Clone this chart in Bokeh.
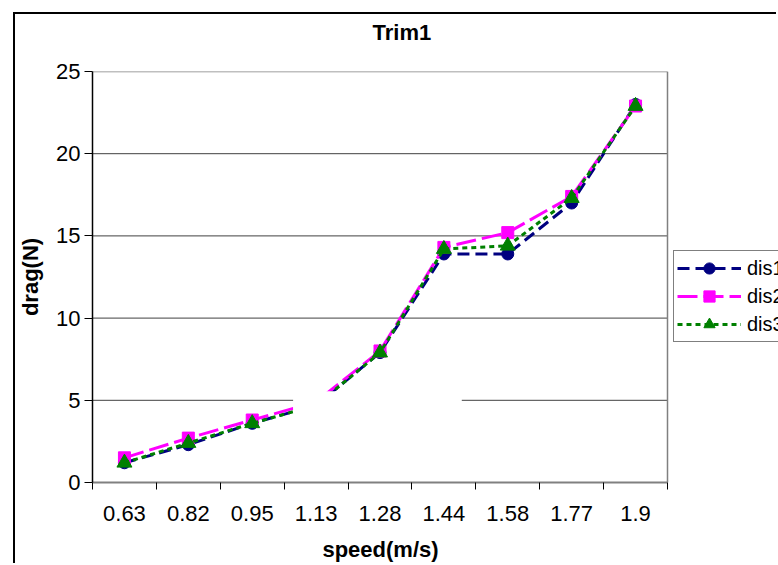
from bokeh.plotting import figure
from bokeh.models import FixedTicker, Legend, LegendItem, BoxAnnotation, Range1d
from bokeh.embed import file_html
from bokeh.resources import INLINE

# ---- data ----
speeds = ["0.63", "0.82", "0.95", "1.13", "1.28", "1.44", "1.58", "1.77", "1.9"]
dis1 = [1.2, 2.3, 3.6, 4.7, 7.9, 13.9, 13.9, 17.0, 23.0]
dis2 = [1.5, 2.7, 3.8, 4.9, 8.0, 14.3, 15.2, 17.4, 22.9]
dis3 = [1.2, 2.4, 3.6, 4.7, 7.9, 14.2, 14.4, 17.3, 22.9]
y_ticks = [0, 5, 10, 15, 20, 25]

FONT = "Liberation Sans"
n = len(speeds)
xc = [i + 0.5 for i in range(n)]

# frame runs to the right edge of the window; the plot area is x in [0, n]
PLOT_W, FRAME_W = 575, 686
p = figure(width=763, height=551, output_backend="svg", toolbar_location=None,
           x_range=Range1d(0, n * FRAME_W / PLOT_W), y_range=Range1d(0, 25),
           min_border_left=77, min_border_right=0, min_border_top=57,
           min_border_bottom=83, title="Trim1\n ",
           margin=(12, 0, 0, 13),
           styles={"border-left": "2px solid black", "border-top": "2px solid black"})
p.background_fill_color = "white"
p.border_fill_color = "white"
p.outline_line_color = None

p.title.text_font = FONT
p.title.text_font_size = "22px"
p.title.text_font_style = "bold"
p.title.align = "left"
p.title.offset = 280
p.title.text_color = "black"
p.title.standoff = 4

# x axis (Excel-like category axis, ticks between categories)
xa = p.xaxis[0]
xa.bounds = (0, n)
xa.ticker = FixedTicker(ticks=xc, minor_ticks=list(range(n + 1)))
xa.major_label_overrides = {v: s for v, s in zip(xc, speeds)}
xa.major_tick_out = 0
xa.major_tick_in = 0
xa.minor_tick_out = 7
xa.minor_tick_in = 0
xa.minor_tick_line_color = "black"
xa.minor_tick_line_width = 1
xa.axis_line_color = "#808080"
xa.axis_line_width = 2
xa.major_label_text_font = FONT
xa.major_label_text_font_size = "22px"
xa.major_label_text_color = "black"
xa.major_label_standoff = 16
# non-breaking spaces keep the label centred under the plot area, not the whole frame
xa.axis_label = "speed(m/s)" + "\u00a0" * 18
xa.axis_label_text_font = FONT
xa.axis_label_text_font_size = "22px"
xa.axis_label_text_font_style = "bold"
xa.axis_label_text_color = "black"
xa.axis_label_standoff = 13

ya = p.yaxis[0]
ya.ticker = FixedTicker(ticks=y_ticks)
ya.major_tick_out = 8
ya.major_tick_in = 0
ya.minor_tick_out = 0
ya.minor_tick_in = 0
ya.axis_line_color = "black"
ya.axis_line_width = 1.5
ya.major_tick_line_color = "black"
ya.major_label_text_font = FONT
ya.major_label_text_font_size = "22px"
ya.major_label_text_color = "black"
ya.major_label_standoff = 4
ya.axis_label = "drag(N)"
ya.axis_label_text_font = FONT
ya.axis_label_text_font_size = "22px"
ya.axis_label_text_font_style = "bold"
ya.axis_label_text_color = "black"
ya.axis_label_standoff = 10

p.xgrid.grid_line_color = None
p.ygrid.grid_line_color = None

# horizontal gridlines limited to the plot area, plus plot-area border
p.segment(x0=0, x1=n, y0=y_ticks[1:-1], y1=y_ticks[1:-1],
          line_color="#404040", line_width=1)
p.segment(x0=[0, n], x1=[n, n], y0=[y_ticks[-1], 0], y1=[y_ticks[-1], y_ticks[-1]],
          line_color="#808080", line_width=1.5)

# series
l1 = p.line(xc, dis1, line_color="#000080", line_width=3, line_dash="12 6")
m1 = p.scatter(xc, dis1, marker="circle", size=12, fill_color="#000080", line_color="#000080")
l2 = p.line(xc, dis2, line_color="#FF00FF", line_width=3, line_dash="20 6")
m2 = p.scatter(xc, dis2, marker="square", size=12, fill_color="#FF00FF", line_color="#FF00FF")
l3 = p.line(xc, dis3, line_color="#008000", line_width=3, line_dash="5 4")
m3 = p.scatter(xc, dis3, marker="triangle", size=15, fill_color="#008000", line_color="#008000")

# white patch present in the reference image
p.add_layout(BoxAnnotation(left=3.14, right=5.78, bottom=4.2, top=5.55,
                           fill_color="white", fill_alpha=1, line_alpha=0))

legend = Legend(items=[LegendItem(label="dis1", renderers=[l1, m1]),
                       LegendItem(label="dis2", renderers=[l2, m2]),
                       LegendItem(label="dis3", renderers=[l3, m3])],
                location=(581, 140))
legend.label_text_font = FONT
legend.label_text_font_size = "20px"
legend.label_text_color = "black"
legend.glyph_width = 64
legend.glyph_height = 28
legend.label_height = 28
legend.spacing = 0
legend.padding = 3
legend.margin = 0
legend.label_standoff = 6
legend.border_line_color = "black"
legend.border_line_width = 1
legend.background_fill_alpha = 1
p.add_layout(legend, "center")

open("out.html", "w").write(file_html(p, INLINE))
